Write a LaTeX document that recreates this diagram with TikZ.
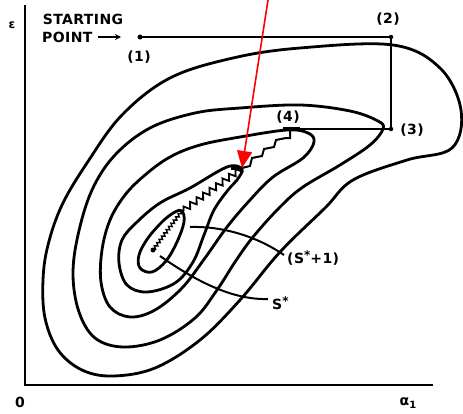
\documentclass[tikz,border=0pt]{standalone}
\usepackage{fontspec}
\setmainfont{DejaVu Sans}
\newfontfamily\labfont[LetterSpace=3]{DejaVu Sans}
\usetikzlibrary{decorations.pathmorphing,arrows.meta}
\begin{document}
\begin{tikzpicture}[x=1pt,y=-1pt,
  contour/.style={line width=2.8pt, line join=round},
  route/.style={line width=2pt},
  axis/.style={line width=2.8pt},
  lead/.style={line width=2pt},
  lbl/.style={font=\labfont\bfseries\fontsize{14}{14}\selectfont, inner sep=0pt},
  ptdot/.style={circle, fill=black, inner sep=0pt, minimum size=5pt},
]
\useasboundingbox (0,0) rectangle (463,413);
\fill[white] (0,0) rectangle (463,413);

% axes
\coordinate (ytop) at (25,5);
\coordinate (orig) at (25,385);
\coordinate (xend) at (433,385);
\draw[axis] (ytop) -- (orig) -- (xend);
\node[lbl, font=\bfseries\fontsize{12}{12}\selectfont] (ylab) at (12,25) {ε};
\node[lbl] (zero) at (20,402) {0};
\node[lbl] (xlab) at (408,403) {α\raisebox{-3pt}{\fontsize{10}{10}\selectfont 1}};

% contours
\draw[contour] plot[smooth cycle, tension=0.6] coordinates {
 (233,58) (300,48) (393,45) (440,68) (461,110) (452,148) (407,160) (353,180)
 (325,208) (280,252) (240,300) (200,340) (155,368) (113,376) (82,370) (58,350)
 (45,318) (43,280) (48,245) (62,205) (87,163) (122,115) (170,78)};
\draw[contour] plot[smooth cycle, tension=0.6] coordinates {
 (240,108) (300,105) (350,111) (378,121) (383,129) (370,145) (340,165) (303,187)
 (280,207) (253,237) (235,262) (217,290) (195,318) (160,340) (123,347) (95,338)
 (79,312) (73,275) (78,235) (92,190) (115,155) (150,128) (195,113)};
\draw[contour] plot[smooth cycle, tension=0.6] coordinates {
 (200,145) (240,137) (287,130) (308,133) (314,142) (303,158) (273,177) (250,200)
 (227,227) (205,258) (182,288) (155,310) (130,317) (110,307) (101,282) (102,250)
 (110,220) (125,195) (145,175) (170,157)};
\draw[contour] plot[smooth cycle, tension=0.6] coordinates {
 (190,188) (227,167) (242,169) (237,180) (228,190) (214,210) (204,235) (193,262)
 (175,283) (147,292) (127,285) (119,263) (122,240) (137,222) (160,203)};
\draw[contour] plot[smooth cycle, tension=0.6] coordinates {
 (182,211) (184,222) (177,242) (166,261) (152,272) (140,268) (139,255) (148,238)
 (163,221) (175,212)};

% search route
\coordinate (p1) at (140,37);
\coordinate (p2) at (391,37);
\coordinate (p3) at (391,129);
\coordinate (p4) at (290,129);
\coordinate (q2) at (242,168);
\coordinate (q1) at (181,212);
\coordinate (dot) at (153,250);
\draw[route] (p1) -- (p2) -- (p3) -- (p4);
\draw[line width=3.2pt] (283,129) -- (p4) -- (300,129);
\draw[route] (p4) -- (290,138) -- (286,138) -- (276,140) -- (274,147) -- (264,149) -- (262,156)
  -- (252,158) -- (250,166) -- (q2);
\draw[line width=3.2pt] (231,168) -- (q2);
\draw[line width=1.8pt, decorate, decoration={zigzag, segment length=8pt, amplitude=3pt}] (q2) -- (q1);
\draw[line width=1.4pt, decorate, decoration={zigzag, segment length=4pt, amplitude=1.5pt}] (q1) -- (dot);
\node[ptdot] (d1) at (p1) {};
\node[ptdot, minimum size=4.5pt] (d2) at (p2) {};
\node[ptdot, minimum size=4.5pt] (d3) at (p3) {};
\node[ptdot] (d0) at (dot) {};

% labels of route
\node[lbl] (start) at (83,19) {STARTING};
\node[lbl, anchor=west] (point) at (42,37) {POINT};
\coordinate (parr) at (121,37);
\draw[line width=2.2pt, -{Stealth[length=6pt,width=6pt]}] (point.east) ++(5,0) -- (parr);
\node[lbl] (l1) at (139,57) {(1)};
\node[lbl] (l2) at (388,19) {(2)};
\node[lbl] (l3) at (412,130) {(3)};
\node[lbl] (l4) at (288,117) {(4)};

% leaders
\coordinate (s0) at (160,256);
\coordinate (s1) at (268,299);
\draw[lead] (s0) .. controls (200,284) and (235,300) .. (s1);
\node[lbl, anchor=west] (slab) at (272,303) {S\raisebox{4pt}{\fontsize{12}{12}\selectfont *}};
\coordinate (t0) at (190,227);
\coordinate (t1) at (284,255);
\draw[lead] (t0) .. controls (220,226) and (255,235) .. (t1);
\node[lbl, anchor=west] (tlab) at (287,258) {(S\raisebox{4pt}{\fontsize{12}{12}\selectfont *}+1)};

% red arrow
\coordinate (rtop) at (268,0);
\draw[red, line width=1.6pt, -{Triangle[length=17pt,width=15pt]}] (rtop) -- (q2);
\end{tikzpicture}
\end{document}
